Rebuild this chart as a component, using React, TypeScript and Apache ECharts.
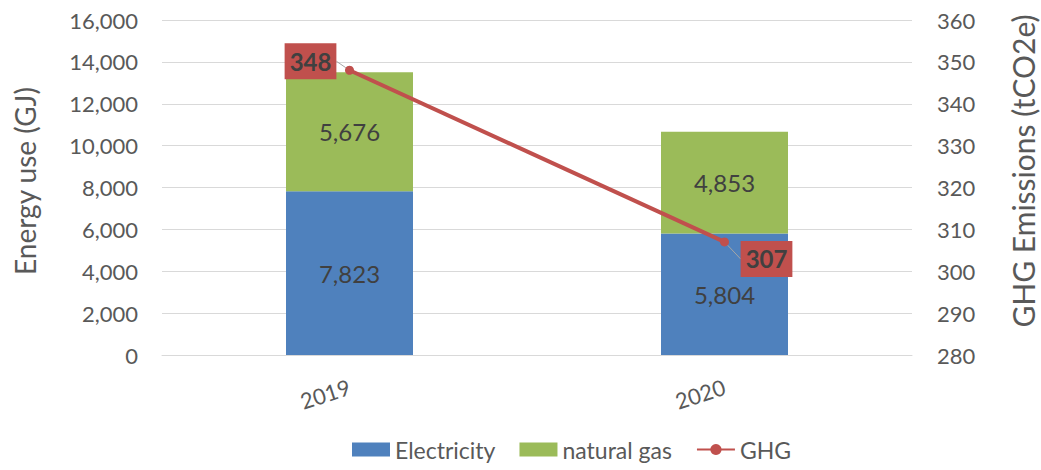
import React, { useEffect, useRef } from "react";
import * as echarts from "echarts";

const years = ["2019", "2020"];
const electricity = [7823, 5804];
const naturalGas = [5676, 4853];
const ghg = [348, 307];
const labelOffsets = [
  [-39, -9],
  [42, 17],
];

const FONT = "Lato, 'Open Sans', sans-serif";
const TXT = "#595959";

export default function App() {
  const ref = useRef<HTMLDivElement>(null);
  useEffect(() => {
    if (!ref.current) return;
    document.body.style.margin = "0";
    const chart = echarts.init(ref.current, undefined, { renderer: "svg" });
    chart.setOption({
      animation: false,
      textStyle: { fontFamily: FONT },
      grid: { left: 162, right: 129, top: 20, bottom: 115 },
      graphic: [
        {
          type: "text",
          x: 25,
          y: 181,
          rotation: Math.PI / 2,
          style: {
            text: "Energy use (GJ)",
            fontSize: 28,
            fontFamily: FONT,
            fill: TXT,
            textAlign: "center",
            textVerticalAlign: "middle",
          },
        },
        {
          type: "text",
          x: 1023,
          y: 171,
          rotation: Math.PI / 2,
          style: {
            text: "GHG Emissions (tCO2e)",
            fontSize: 30,
            fontFamily: FONT,
            fill: TXT,
            textAlign: "center",
            textVerticalAlign: "middle",
          },
        },
      ],
      legend: {
        bottom: 4,
        left: 347,
        itemWidth: 38,
        itemHeight: 14,
        itemGap: 24,
        textStyle: { fontSize: 23, color: TXT, fontFamily: FONT },
        data: [
          { name: "Electricity", icon: "rect" },
          { name: "natural gas", icon: "rect" },
          { name: "GHG" },
        ],
      },
      xAxis: {
        type: "category",
        data: years,
        axisLine: { lineStyle: { color: "#d9d9d9", width: 1 } },
        axisTick: { show: false },
        axisLabel: { rotate: 18, fontSize: 22, color: TXT, margin: 31, fontFamily: FONT },
      },
      yAxis: [
        {
          type: "value",
          min: 0,
          max: 16000,
          interval: 2000,
          axisLine: { show: false },
          axisTick: { show: false },
          axisLabel: {
            fontSize: 22,
            color: TXT,
            margin: 24,
            fontFamily: FONT,
            formatter: (v: number) => v.toLocaleString("en-US"),
          },
          splitLine: { lineStyle: { color: "#d9d9d9" } },
        },
        {
          type: "value",
          min: 280,
          max: 360,
          interval: 10,
          axisLine: { show: false },
          axisTick: { show: false },
          axisLabel: { fontSize: 22, color: TXT, margin: 25, fontFamily: FONT },
          splitLine: { show: false },
        },
      ],
      series: [
        {
          name: "Electricity",
          type: "bar",
          stack: "energy",
          barWidth: 127,
          data: electricity,
          itemStyle: { color: "#4F81BD" },
          label: {
            show: true,
            position: "inside",
            fontSize: 24,
            color: "#404040",
            fontFamily: FONT,
            formatter: (p: any) => Number(p.value).toLocaleString("en-US"),
          },
        },
        {
          name: "natural gas",
          type: "bar",
          stack: "energy",
          barWidth: 127,
          data: naturalGas,
          itemStyle: { color: "#9BBB59" },
          label: {
            show: true,
            position: "inside",
            fontSize: 24,
            color: "#404040",
            fontFamily: FONT,
            formatter: (p: any) => Number(p.value).toLocaleString("en-US"),
          },
        },
        {
          name: "GHG",
          type: "line",
          yAxisIndex: 1,
          data: ghg,
          symbol: "circle",
          symbolSize: 9,
          z: 5,
          lineStyle: { color: "#C0504D", width: 4 },
          itemStyle: { color: "#C0504D" },
          label: {
            show: true,
            position: "inside",
            fontSize: 24,
            fontWeight: "bold",
            color: "#404040",
            backgroundColor: "#C0504D",
            padding: [7, 5, 5, 5],
            fontFamily: FONT,
          },
          labelLine: { show: true, lineStyle: { color: "#a6a6a6", width: 1 } },
          labelLayout: (p: any) => ({
            dx: labelOffsets[p.dataIndex][0],
            dy: labelOffsets[p.dataIndex][1],
          }),
        },
      ],
    });
    return () => chart.dispose();
  }, []);
  return <div ref={ref} style={{ width: 1041, height: 470 }} />;
}
